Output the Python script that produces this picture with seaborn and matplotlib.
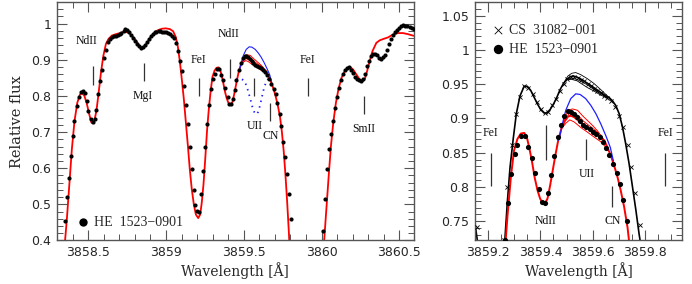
import numpy as np
import pandas as pd
import matplotlib
matplotlib.use("Agg")
import matplotlib.pyplot as plt
from matplotlib.ticker import MultipleLocator, FuncFormatter
import seaborn as sns

# ---------------- data ----------------
# HE 1523-0901 observed spectrum
he_wl = [3858.352, 3858.365, 3858.378, 3858.389, 3858.400, 3858.412, 3858.425, 3858.438, 3858.451, 3858.464,
         3858.477, 3858.490, 3858.502, 3858.515, 3858.528, 3858.541, 3858.552, 3858.564, 3858.575, 3858.588,
         3858.601, 3858.614, 3858.627, 3858.639, 3858.652, 3858.664, 3858.677, 3858.689, 3858.702, 3858.714,
         3858.727, 3858.739, 3858.752, 3858.764, 3858.777, 3858.789, 3858.802, 3858.814, 3858.827, 3858.839,
         3858.852, 3858.864, 3858.877, 3858.889, 3858.902, 3858.914, 3858.927, 3858.939, 3858.952, 3858.964,
         3858.977, 3858.989, 3859.002, 3859.014, 3859.027, 3859.039, 3859.052, 3859.064, 3859.077, 3859.089,
         3859.102, 3859.114, 3859.127, 3859.139, 3859.152, 3859.164, 3859.177, 3859.189, 3859.202, 3859.214,
         3859.227, 3859.239, 3859.252, 3859.264, 3859.277, 3859.289, 3859.302, 3859.312, 3859.325, 3859.340,
         3859.354, 3859.366, 3859.380, 3859.396, 3859.408, 3859.418, 3859.429, 3859.442, 3859.452, 3859.468,
         3859.480, 3859.492, 3859.505, 3859.516, 3859.528, 3859.539, 3859.551, 3859.562, 3859.575, 3859.588,
         3859.600, 3859.613, 3859.626, 3859.638, 3859.651, 3859.664, 3859.677, 3859.691, 3859.704, 3859.716,
         3859.730, 3859.742, 3859.755, 3859.767, 3859.780, 3859.792, 3859.805,
         3860.006, 3860.019, 3860.032, 3860.045, 3860.058, 3860.071, 3860.084, 3860.097, 3860.110, 3860.123,
         3860.136, 3860.149, 3860.162, 3860.175, 3860.188, 3860.201, 3860.214, 3860.227, 3860.240, 3860.253,
         3860.266, 3860.279, 3860.292, 3860.305, 3860.318, 3860.331, 3860.344, 3860.357, 3860.370, 3860.383,
         3860.396, 3860.409, 3860.422, 3860.435, 3860.448, 3860.461, 3860.474, 3860.487, 3860.500, 3860.513,
         3860.526, 3860.539, 3860.552, 3860.565, 3860.578, 3860.591]
he_flux = [0.454, 0.520, 0.574, 0.634, 0.689, 0.730, 0.773, 0.797, 0.812, 0.814,
           0.807, 0.785, 0.758, 0.735, 0.727, 0.737, 0.761, 0.804, 0.841, 0.873,
           0.905, 0.928, 0.948, 0.958, 0.963, 0.966, 0.967, 0.969, 0.971, 0.975,
           0.980, 0.985, 0.983, 0.977, 0.968, 0.960, 0.952, 0.944, 0.938, 0.934,
           0.935, 0.940, 0.948, 0.957, 0.966, 0.972, 0.976, 0.978, 0.979, 0.979,
           0.978, 0.977, 0.976, 0.975, 0.972, 0.967, 0.960, 0.947, 0.925, 0.898,
           0.868, 0.828, 0.775, 0.722, 0.660, 0.598, 0.540, 0.498, 0.482, 0.479,
           0.528, 0.592, 0.660, 0.722, 0.776, 0.819, 0.848, 0.861, 0.874, 0.874,
           0.858, 0.843, 0.821, 0.797, 0.778, 0.777, 0.791, 0.817, 0.845, 0.873,
           0.890, 0.904, 0.911, 0.910, 0.907, 0.902, 0.897, 0.891, 0.887, 0.884,
           0.881, 0.878, 0.873, 0.865, 0.857, 0.847, 0.834, 0.820, 0.804, 0.781,
           0.750, 0.716, 0.672, 0.630, 0.585, 0.528, 0.460,
           0.426, 0.515, 0.597, 0.652, 0.695, 0.730, 0.767, 0.797, 0.823, 0.843,
           0.860, 0.871, 0.878, 0.879, 0.873, 0.863, 0.852, 0.846, 0.843, 0.842,
           0.847, 0.862, 0.882, 0.898, 0.910, 0.916, 0.917, 0.913, 0.905, 0.902,
           0.907, 0.914, 0.928, 0.944, 0.958, 0.968, 0.976, 0.983, 0.989, 0.993,
           0.995, 0.994, 0.993, 0.990, 0.988, 0.986]

# best-fit synthetic spectrum for HE 1523-0901 (red)
red_wl = [3858.345, 3858.352, 3858.363, 3858.378, 3858.395, 3858.412, 3858.430, 3858.447, 3858.460, 3858.475,
          3858.490, 3858.507, 3858.520, 3858.528, 3858.541, 3858.554, 3858.567, 3858.582, 3858.597, 3858.614,
          3858.631, 3858.652, 3858.678, 3858.704, 3858.725, 3858.747, 3858.768, 3858.789, 3858.811, 3858.828,
          3858.845, 3858.862, 3858.879, 3858.901, 3858.924, 3858.948, 3858.974, 3858.999, 3859.025, 3859.046,
          3859.063, 3859.076, 3859.089, 3859.102, 3859.115, 3859.128, 3859.141, 3859.153, 3859.166, 3859.179,
          3859.192, 3859.207, 3859.220, 3859.230, 3859.241, 3859.252, 3859.264, 3859.274, 3859.287, 3859.299,
          3859.312, 3859.325, 3859.338, 3859.348, 3859.357, 3859.367, 3859.378, 3859.389, 3859.399, 3859.408,
          3859.417, 3859.427, 3859.437, 3859.447, 3859.457, 3859.468, 3859.480, 3859.493, 3859.506, 3859.516,
          3859.529, 3859.548, 3859.567, 3859.586, 3859.605, 3859.624, 3859.644, 3859.656, 3859.669, 3859.682,
          3859.695, 3859.707, 3859.720, 3859.733, 3859.745, 3859.757, 3859.768, 3859.779, 3859.790, 3859.797,
          3860.012, 3860.017, 3860.032, 3860.047, 3860.060, 3860.075, 3860.092, 3860.109, 3860.128, 3860.150,
          3860.171, 3860.186, 3860.203, 3860.224, 3860.246, 3860.263, 3860.278, 3860.292, 3860.310, 3860.327,
          3860.352, 3860.374, 3860.399, 3860.427, 3860.459, 3860.491, 3860.523, 3860.555, 3860.587, 3860.610]
red_flux = [0.350, 0.403, 0.459, 0.551, 0.652, 0.730, 0.781, 0.804, 0.808, 0.801,
            0.781, 0.749, 0.727, 0.724, 0.733, 0.762, 0.808, 0.864, 0.910, 0.944,
            0.958, 0.967, 0.971, 0.974, 0.977, 0.977, 0.972, 0.963, 0.951, 0.939,
            0.933, 0.937, 0.948, 0.963, 0.974, 0.982, 0.986, 0.987, 0.985, 0.979,
            0.963, 0.937, 0.896, 0.845, 0.790, 0.726, 0.661, 0.597, 0.541, 0.500,
            0.472, 0.462, 0.472, 0.505, 0.555, 0.624, 0.705, 0.757, 0.814, 0.853,
            0.870, 0.878, 0.879, 0.873, 0.858, 0.839, 0.814, 0.795, 0.783, 0.777,
            0.776, 0.783, 0.802, 0.824, 0.846, 0.868, 0.885, 0.896, 0.903, 0.904,
            0.902, 0.896, 0.890, 0.885, 0.880, 0.875, 0.868, 0.858, 0.846, 0.831,
            0.814, 0.795, 0.771, 0.741, 0.700, 0.645, 0.580, 0.505, 0.420, 0.360,
            0.360, 0.403, 0.495, 0.587, 0.661, 0.726, 0.781, 0.820, 0.850, 0.870,
            0.879, 0.879, 0.873, 0.859, 0.845, 0.840, 0.847, 0.868, 0.898, 0.924,
            0.947, 0.954, 0.958, 0.962, 0.970, 0.974, 0.974, 0.971, 0.967, 0.965]

# U abundance variations (thin red)
red_hi_wl = [3859.480, 3859.497, 3859.510, 3859.522, 3859.542, 3859.561, 3859.580, 3859.599, 3859.618, 3859.631, 3859.644, 3859.656]
red_hi_flux = [0.885, 0.905, 0.912, 0.914, 0.912, 0.904, 0.897, 0.890, 0.882, 0.875, 0.866, 0.858]
red_mid_wl = [3859.480, 3859.497, 3859.512, 3859.525, 3859.545, 3859.565, 3859.585, 3859.605, 3859.625, 3859.644, 3859.656]
red_mid_flux = [0.885, 0.900, 0.908, 0.909, 0.904, 0.896, 0.890, 0.884, 0.878, 0.868, 0.858]
red_lo_wl = [3859.480, 3859.497, 3859.512, 3859.529, 3859.554, 3859.580, 3859.605, 3859.631, 3859.650, 3859.660]
red_lo_flux = [0.885, 0.893, 0.898, 0.895, 0.887, 0.880, 0.873, 0.866, 0.858, 0.853]

# synthesis without U (blue solid)
blue_wl = [3859.468, 3859.472, 3859.484, 3859.497, 3859.516, 3859.535, 3859.552, 3859.573, 3859.593, 3859.612,
           3859.631, 3859.650, 3859.667, 3859.679]
blue_flux = [0.868, 0.870, 0.892, 0.912, 0.929, 0.936, 0.935, 0.929, 0.919, 0.907,
             0.892, 0.875, 0.858, 0.838]

# synthesis with enhanced U (blue dotted, left panel)
bdot_wl = [3859.452, 3859.465, 3859.478, 3859.492, 3859.505, 3859.518, 3859.530, 3859.543, 3859.555, 3859.568,
           3859.580, 3859.593, 3859.605, 3859.618, 3859.630, 3859.643, 3859.655, 3859.667]
bdot_flux = [0.846, 0.848, 0.847, 0.845, 0.840, 0.828, 0.810, 0.790, 0.770, 0.755,
             0.749, 0.756, 0.775, 0.800, 0.822, 0.838, 0.846, 0.846]

# CS 31082-001 observed (crosses)
cs_wl = [3859.157, 3859.259, 3859.274, 3859.291, 3859.306, 3859.321, 3859.338, 3859.354, 3859.370, 3859.386,
         3859.401, 3859.417, 3859.429, 3859.446, 3859.461, 3859.475, 3859.491, 3859.503, 3859.516, 3859.529,
         3859.542, 3859.554, 3859.567, 3859.580, 3859.593, 3859.605, 3859.618, 3859.631, 3859.644, 3859.656,
         3859.669, 3859.684, 3859.700, 3859.716, 3859.733, 3859.748, 3859.763, 3859.780]
cs_flux = [0.742, 0.723, 0.800, 0.862, 0.907, 0.931, 0.947, 0.945, 0.936, 0.924,
           0.914, 0.908, 0.909, 0.919, 0.929, 0.940, 0.950, 0.958, 0.961, 0.961,
           0.959, 0.956, 0.954, 0.951, 0.948, 0.943, 0.940, 0.937, 0.933, 0.930,
           0.925, 0.917, 0.904, 0.887, 0.862, 0.829, 0.791, 0.745]

# CS 31082-001 synthetic spectra (black)
blk_wl = [3859.140, 3859.146, 3859.159, 3859.165, 3859.258, 3859.264, 3859.274, 3859.284, 3859.296, 3859.308,
          3859.322, 3859.338, 3859.350, 3859.363, 3859.376, 3859.389, 3859.401, 3859.414, 3859.424, 3859.437,
          3859.450, 3859.463, 3859.475, 3859.488, 3859.501, 3859.514, 3859.526, 3859.542, 3859.557, 3859.573,
          3859.593, 3859.612, 3859.631, 3859.650, 3859.663, 3859.675, 3859.688, 3859.701, 3859.714, 3859.726,
          3859.739, 3859.752, 3859.765, 3859.777, 3859.781, 3859.785]
blk_flux = [0.790, 0.758, 0.722, 0.700, 0.700, 0.722, 0.780, 0.829, 0.870, 0.907,
            0.933, 0.947, 0.947, 0.941, 0.931, 0.921, 0.913, 0.908, 0.908, 0.913,
            0.921, 0.931, 0.942, 0.951, 0.957, 0.961, 0.962, 0.960, 0.957, 0.953,
            0.948, 0.943, 0.938, 0.933, 0.930, 0.926, 0.919, 0.907, 0.887, 0.863,
            0.834, 0.800, 0.766, 0.732, 0.722, 0.700]
blk_hi_wl = [3859.488, 3859.505, 3859.520, 3859.535, 3859.554, 3859.580, 3859.605, 3859.631, 3859.656, 3859.669]
blk_hi_flux = [0.951, 0.962, 0.966, 0.967, 0.964, 0.958, 0.951, 0.942, 0.933, 0.929]
blk_lo1_wl = [3859.501, 3859.520, 3859.540, 3859.560, 3859.580, 3859.605, 3859.631, 3859.656]
blk_lo1_flux = [0.957, 0.959, 0.957, 0.953, 0.949, 0.942, 0.936, 0.931]
blk_lo2_wl = [3859.501, 3859.520, 3859.540, 3859.560, 3859.580, 3859.605, 3859.631, 3859.656]
blk_lo2_flux = [0.957, 0.957, 0.955, 0.950, 0.945, 0.940, 0.934, 0.930]

# line identifications: label, tick wavelength, tick bottom, tick top, label x, label y
left_ids = [("NdII", 3858.532, 0.831, 0.882, 3858.486, 0.951),
            ("MgI", 3858.856, 0.841, 0.891, 3858.853, 0.799),
            ("FeI", 3859.209, 0.799, 0.850, 3859.209, 0.899),
            ("NdII", 3859.411, 0.850, 0.901, 3859.400, 0.972),
            ("UII", 3859.567, 0.799, 0.850, 3859.571, 0.718),
            ("CN", 3859.668, 0.730, 0.781, 3859.672, 0.689),
            ("FeI", 3859.910, 0.799, 0.850, 3859.910, 0.899),
            ("SmII", 3860.272, 0.751, 0.801, 3860.272, 0.709)]
right_ids = [("FeI", 3859.210, 0.801, 0.849, 3859.210, 0.879),
             ("NdII", 3859.421, 0.840, 0.890, 3859.421, 0.750),
             ("UII", 3859.576, 0.840, 0.870, 3859.576, 0.819),
             ("CN", 3859.675, 0.771, 0.801, 3859.675, 0.750),
             ("FeI", 3859.877, 0.801, 0.849, 3859.877, 0.879)]

he_label = "HE  1523\u22120901"
cs_label = "CS  31082\u2212001"

# ---------------- style ----------------
sns.set_theme(style="ticks")
plt.rcParams["font.family"] = ["DejaVu Sans"]
SERIF = ["Liberation Serif", "DejaVu Serif"]
LABSERIF = ["DejaVu Serif"]
FRAME = "#555555"

fig = plt.figure(figsize=(6.92, 2.84), dpi=100)
axL = fig.add_axes([0.0820, 0.1532, 0.5163, 0.8398])
axR = fig.add_axes([0.6864, 0.1532, 0.2991, 0.8398])

RED = "#ff0000"
BLUE = "#1f1fff"


def line(ax, x, y, color, lw):
    sns.lineplot(x=x, y=y, ax=ax, color=color, lw=lw, sort=False,
                 estimator=None, legend=False)
    return ax.lines[-1]


# ---- left panel ----
line(axL, red_wl, red_flux, RED, 1.3)
for xw, yf in [(red_hi_wl, red_hi_flux), (red_mid_wl, red_mid_flux), (red_lo_wl, red_lo_flux)]:
    line(axL, xw, yf, RED, 0.7)
line(axL, blue_wl, blue_flux, BLUE, 0.8)
line(axL, bdot_wl, bdot_flux, BLUE, 1.3).set_linestyle((0, (0.8, 2.4)))
sns.scatterplot(x=he_wl, y=he_flux, ax=axL, color="black", s=9, linewidth=0, zorder=5,
                label=he_label)

axL.set_xlim(3858.298, 3860.594)
axL.set_ylim(0.4, 1.06)
axL.xaxis.set_major_locator(MultipleLocator(0.5))
axL.xaxis.set_minor_locator(MultipleLocator(0.1))
axL.yaxis.set_major_locator(MultipleLocator(0.1))
axL.yaxis.set_minor_locator(MultipleLocator(0.02))

# ---- right panel ----
line(axR, blk_wl, blk_flux, "black", 1.2)
for xw, yf in [(blk_hi_wl, blk_hi_flux), (blk_lo1_wl, blk_lo1_flux), (blk_lo2_wl, blk_lo2_flux)]:
    line(axR, xw, yf, "black", 0.6)
line(axR, red_wl, red_flux, RED, 1.4)
for xw, yf in [(red_hi_wl, red_hi_flux), (red_mid_wl, red_mid_flux), (red_lo_wl, red_lo_flux)]:
    line(axR, xw, yf, RED, 0.7)
line(axR, blue_wl, blue_flux, BLUE, 0.9)
sns.scatterplot(x=cs_wl, y=cs_flux, ax=axR, color="black", marker="x", s=9, linewidth=0.6,
                zorder=5, label=cs_label)
sns.scatterplot(x=he_wl, y=he_flux, ax=axR, color="black", s=14, linewidth=0, zorder=5,
                label=he_label)

axR.set_xlim(3859.15, 3859.941)
axR.set_ylim(0.722, 1.07)
axR.xaxis.set_major_locator(MultipleLocator(0.2))
axR.xaxis.set_minor_locator(MultipleLocator(0.05))
axR.yaxis.set_major_locator(MultipleLocator(0.05))
axR.yaxis.set_minor_locator(MultipleLocator(0.01))

fmt = FuncFormatter(lambda v, p: f"{v:g}")
for ax, ids in [(axL, left_ids), (axR, right_ids)]:
    for lab, wl, y0, y1, tx, ty in ids:
        ax.vlines(wl, y0, y1, color="#333333", lw=0.9, zorder=3)
        ax.text(tx, ty, lab, ha="center", va="center", fontsize=8.5, family=SERIF, color="#111111")
    ax.xaxis.set_major_formatter(fmt)
    ax.yaxis.set_major_formatter(fmt)
    ax.tick_params(which="both", direction="in", top=True, right=True, color=FRAME,
                   labelsize=9, pad=4)
    ax.tick_params(which="major", length=7, width=0.8)
    ax.tick_params(which="minor", length=4, width=0.7)
    for s in ax.spines.values():
        s.set_color(FRAME)
        s.set_linewidth(1.0)
    ax.set_xlabel("Wavelength [\u00c5]", family=LABSERIF, fontsize=10, labelpad=2)
    ax.set_ylabel("")

axL.set_ylabel("Relative flux", family=LABSERIF, fontsize=10.5, labelpad=5)

axL.legend(loc="center left", bbox_to_anchor=(0.053, 0.075), frameon=False,
           borderpad=0, borderaxespad=0, handlelength=1.0, handletextpad=0.3,
           markerscale=2.0, prop={"family": SERIF, "size": 10})
axR.legend(loc="center left", bbox_to_anchor=(0.077, 0.841), frameon=False,
           borderpad=0, borderaxespad=0, handlelength=1.0, handletextpad=0.3,
           labelspacing=0.4, markerscale=1.8, prop={"family": SERIF, "size": 10})

fig.savefig("out.png", dpi=100)
